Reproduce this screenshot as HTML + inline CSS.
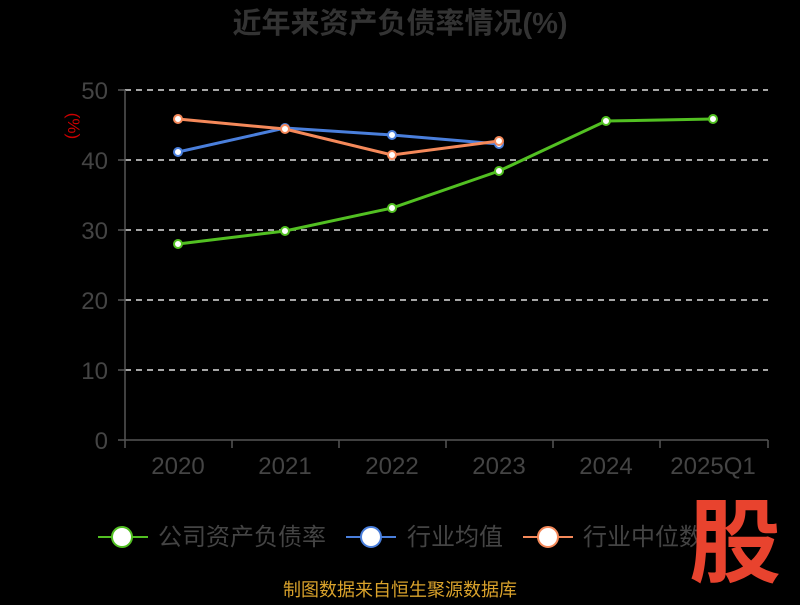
<!DOCTYPE html>
<html><head><meta charset="utf-8"><style>
body{margin:0;background:#000;}
text{font-family:"Liberation Sans","Noto Sans CJK SC",sans-serif;}
</style></head><body>
<svg width="800" height="600" xmlns="http://www.w3.org/2000/svg">
<rect width="800" height="600" fill="#000"/>
<text x="400" y="33" text-anchor="middle" font-size="29" font-weight="bold" fill="#333">近年来资产负债率情况(%)</text>
<text x="68" y="126" transform="rotate(90 68 126)" font-size="17" fill="#c00" text-anchor="middle">(%)</text>
<g stroke="#ddd" stroke-width="1.5" stroke-dasharray="6,5">
<line x1="125" y1="90" x2="768" y2="90"/><line x1="125" y1="160" x2="768" y2="160"/>
<line x1="125" y1="230" x2="768" y2="230"/><line x1="125" y1="300" x2="768" y2="300"/>
<line x1="125" y1="370" x2="768" y2="370"/>
</g>
<g stroke="#555" stroke-width="1.5">
<line x1="125" y1="90" x2="125" y2="440"/><line x1="125" y1="440" x2="768" y2="440"/>
<line x1="118" y1="90" x2="125" y2="90"/><line x1="118" y1="160" x2="125" y2="160"/><line x1="118" y1="230" x2="125" y2="230"/><line x1="118" y1="300" x2="125" y2="300"/><line x1="118" y1="370" x2="125" y2="370"/><line x1="118" y1="440" x2="125" y2="440"/>
<line x1="125" y1="440" x2="125" y2="448"/><line x1="232" y1="440" x2="232" y2="448"/><line x1="339" y1="440" x2="339" y2="448"/><line x1="446" y1="440" x2="446" y2="448"/><line x1="553" y1="440" x2="553" y2="448"/><line x1="660" y1="440" x2="660" y2="448"/><line x1="768" y1="440" x2="768" y2="448"/>
</g>
<g font-size="24" fill="#444" text-anchor="end">
<text x="108" y="99">50</text><text x="108" y="169">40</text><text x="108" y="239">30</text><text x="108" y="309">20</text><text x="108" y="379">10</text><text x="108" y="449">0</text>
</g>
<g font-size="24" fill="#444" text-anchor="middle">
<text x="178" y="474">2020</text><text x="285" y="474">2021</text><text x="392" y="474">2022</text><text x="499" y="474">2023</text><text x="606" y="474">2024</text><text x="713" y="474">2025Q1</text>
</g>
<polyline points="178,152 285,128 392,135 499,144" fill="none" stroke="#4a7fdc" stroke-width="3"/>
<polyline points="178,119 285,129 392,155 499,141" fill="none" stroke="#f5895a" stroke-width="3"/>
<polyline points="178,244 285,231 392,208 499,171 606,121 713,119" fill="none" stroke="#52c022" stroke-width="3"/>
<g fill="#fff" stroke-width="2">
<circle cx="178" cy="152" r="4" stroke="#4a7fdc"/><circle cx="285" cy="128" r="4" stroke="#4a7fdc"/><circle cx="392" cy="135" r="4" stroke="#4a7fdc"/><circle cx="499" cy="144" r="4" stroke="#4a7fdc"/>
<circle cx="178" cy="119" r="4" stroke="#f5895a"/><circle cx="285" cy="129" r="4" stroke="#f5895a"/><circle cx="392" cy="155" r="4" stroke="#f5895a"/><circle cx="499" cy="141" r="4" stroke="#f5895a"/>
<circle cx="178" cy="244" r="4" stroke="#52c022"/><circle cx="285" cy="231" r="4" stroke="#52c022"/><circle cx="392" cy="208" r="4" stroke="#52c022"/><circle cx="499" cy="171" r="4" stroke="#52c022"/><circle cx="606" cy="121" r="4" stroke="#52c022"/><circle cx="713" cy="119" r="4" stroke="#52c022"/>
</g>
<g stroke-width="2">
<line x1="98" y1="537" x2="148" y2="537" stroke="#52c022"/><circle cx="122" cy="537" r="10" fill="#fff" stroke="#52c022"/>
<line x1="346" y1="537" x2="396" y2="537" stroke="#4a7fdc"/><circle cx="371" cy="537" r="10" fill="#fff" stroke="#4a7fdc"/>
<line x1="523" y1="537" x2="573" y2="537" stroke="#f5895a"/><circle cx="548" cy="537" r="10" fill="#fff" stroke="#f5895a"/>
</g>
<g font-size="24" fill="#444">
<text x="158" y="545">公司资产负债率</text><text x="407" y="545">行业均值</text><text x="583" y="545">行业中位数</text>
</g>
<text x="735" y="575" text-anchor="middle" font-size="92" font-weight="bold" fill="#e8432e">股</text>
<text x="400" y="596" text-anchor="middle" font-size="18" fill="#d9a22b">制图数据来自恒生聚源数据库</text>
</svg>
</body></html>
